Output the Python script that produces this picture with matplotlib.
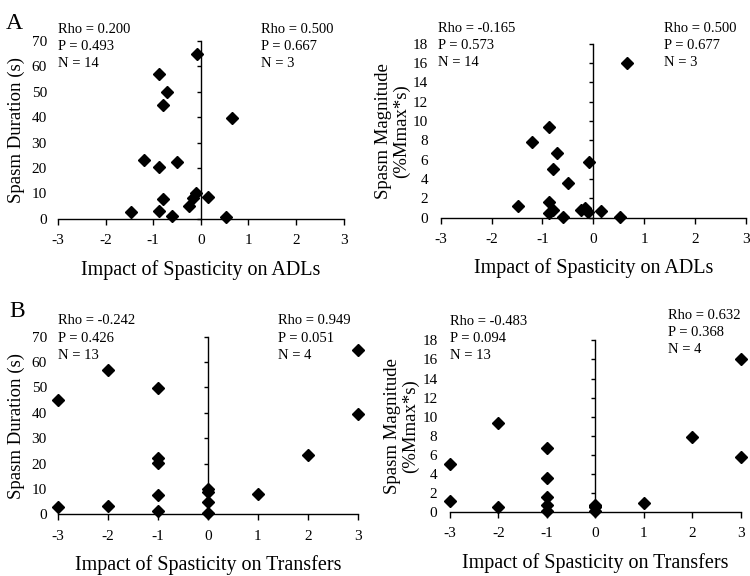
import matplotlib
matplotlib.use("Agg")
import matplotlib.pyplot as plt

plt.rcParams['font.family'] = ['Liberation Serif', 'DejaVu Serif']

# one entry per subject
adl = [-0.09, 0.66, -0.87, -0.72, -0.79, -0.79, -1.20, -0.87, -0.87, -0.50,
       -0.11, -0.17, 0.15, -0.24, -1.47, -0.60, 0.52]
transfers = [3, 3, -2, -1, -3, -1, 2, -1, -2, -1, 0, 1, 0, 0, -3, -1, 0]
duration = [64.8, 39.5, 56.9, 49.8, 44.9, 7.8, 23.2, 20.3, 3.2, 22.2,
             10.1, 8.2, 8.7, 4.9, 2.9, 1.3, 0.6]
magnitude = [5.8, 16.05, 9.38, 6.74, 5.0, 0.78, 7.82, 1.58, 0.52, 3.61,
             0.56, 0.97, 0.66, 0.79, 1.21, 0.1, 0.06]

xlabels = ["Impact of Spasticity on ADLs", "Impact of Spasticity on Transfers"]
ylabels = ["Spasm Duration (s)", "Spasm Magnitude\n(%Mmax*s)"]
yticks = [list(range(0, 71, 10)), list(range(0, 19, 2))]
xticks = [-3, -2, -1, 0, 1, 2, 3]

stats_left = [["Rho = 0.200\nP = 0.493\nN = 14", "Rho = -0.165\nP = 0.573\nN = 14"],
              ["Rho = -0.242\nP = 0.426\nN = 13", "Rho = -0.483\nP = 0.094\nN = 13"]]
stats_right = [["Rho = 0.500\nP = 0.667\nN = 3", "Rho = 0.500\nP = 0.677\nN = 3"],
               ["Rho = 0.949\nP = 0.051\nN = 4", "Rho = 0.632\nP = 0.368\nN = 4"]]
panel_letters = ["A", "B"]

fig = plt.figure(figsize=(7.5, 5.76), dpi=100)

# [left, bottom, width, height] in figure fraction
boxes = [[[0.0773, 0.620, 0.381, 0.309], [0.5876, 0.622, 0.4067, 0.302]],
         [[0.0773, 0.107, 0.400, 0.3085], [0.600, 0.111, 0.3876, 0.298]]]
left_pos = [[(0.0, 1.1), (-0.01, 1.125)], [(0.0, 1.125), (0.0, 1.15)]]
right_pos = [[(0.71, 1.1), (0.731, 1.125)], [(0.734, 1.125), (0.749, 1.185)]]
ypads = [[8, 9], [8, 9]]
ylabelpads = [5, 2]

xs = [adl, transfers]
ys = [duration, magnitude]

for r in range(2):
    for c in range(2):
        ax = fig.add_axes(boxes[r][c])
        ax.plot(xs[r], ys[c], 'D', color='black', markersize=6, clip_on=False)
        ax.set_xlim(-3, 3)
        ax.set_ylim(0, yticks[c][-1])
        ax.set_xticks(xticks)
        ax.set_xticklabels([str(t) for t in xticks], fontsize=11)
        ax.spines['top'].set_visible(False)
        ax.spines['right'].set_visible(False)
        ax.spines['left'].set_position(('data', 0))
        ax.spines['left'].set_linewidth(1)
        ax.spines['bottom'].set_linewidth(1)
        ax.set_yticks(yticks[c])
        ax.tick_params(axis='y', direction='out', length=3, width=1, labelleft=False)
        ax.tick_params(axis='x', direction='out', length=4, width=1, pad=7)
        ax.set_xlabel(xlabels[r], fontsize=14.5, labelpad=9)

        # tick labels sit at the left edge, the axis line itself is at x=0
        sec = ax.secondary_yaxis('left')
        sec.set_yticks(yticks[c])
        sec.spines['left'].set_visible(False)
        sec.tick_params(length=0, pad=ypads[r][c], labelsize=11)
        sec.set_ylabel(ylabels[c], fontsize=13.5, labelpad=ylabelpads[c], linespacing=1.05)

        lx, ly = left_pos[r][c]
        ax.text(lx, ly, stats_left[r][c], transform=ax.transAxes, fontsize=10.5,
                va='top', ha='left', linespacing=1.42)
        rx, ry = right_pos[r][c]
        ax.text(rx, ry, stats_right[r][c], transform=ax.transAxes, fontsize=10.5,
                va='top', ha='left', linespacing=1.42)

fig.text(0.008, 0.978, panel_letters[0], fontsize=17, va='top', ha='left')
fig.text(0.012, 0.478, panel_letters[1], fontsize=17, va='top', ha='left')

fig.savefig("out.png", dpi=100)
